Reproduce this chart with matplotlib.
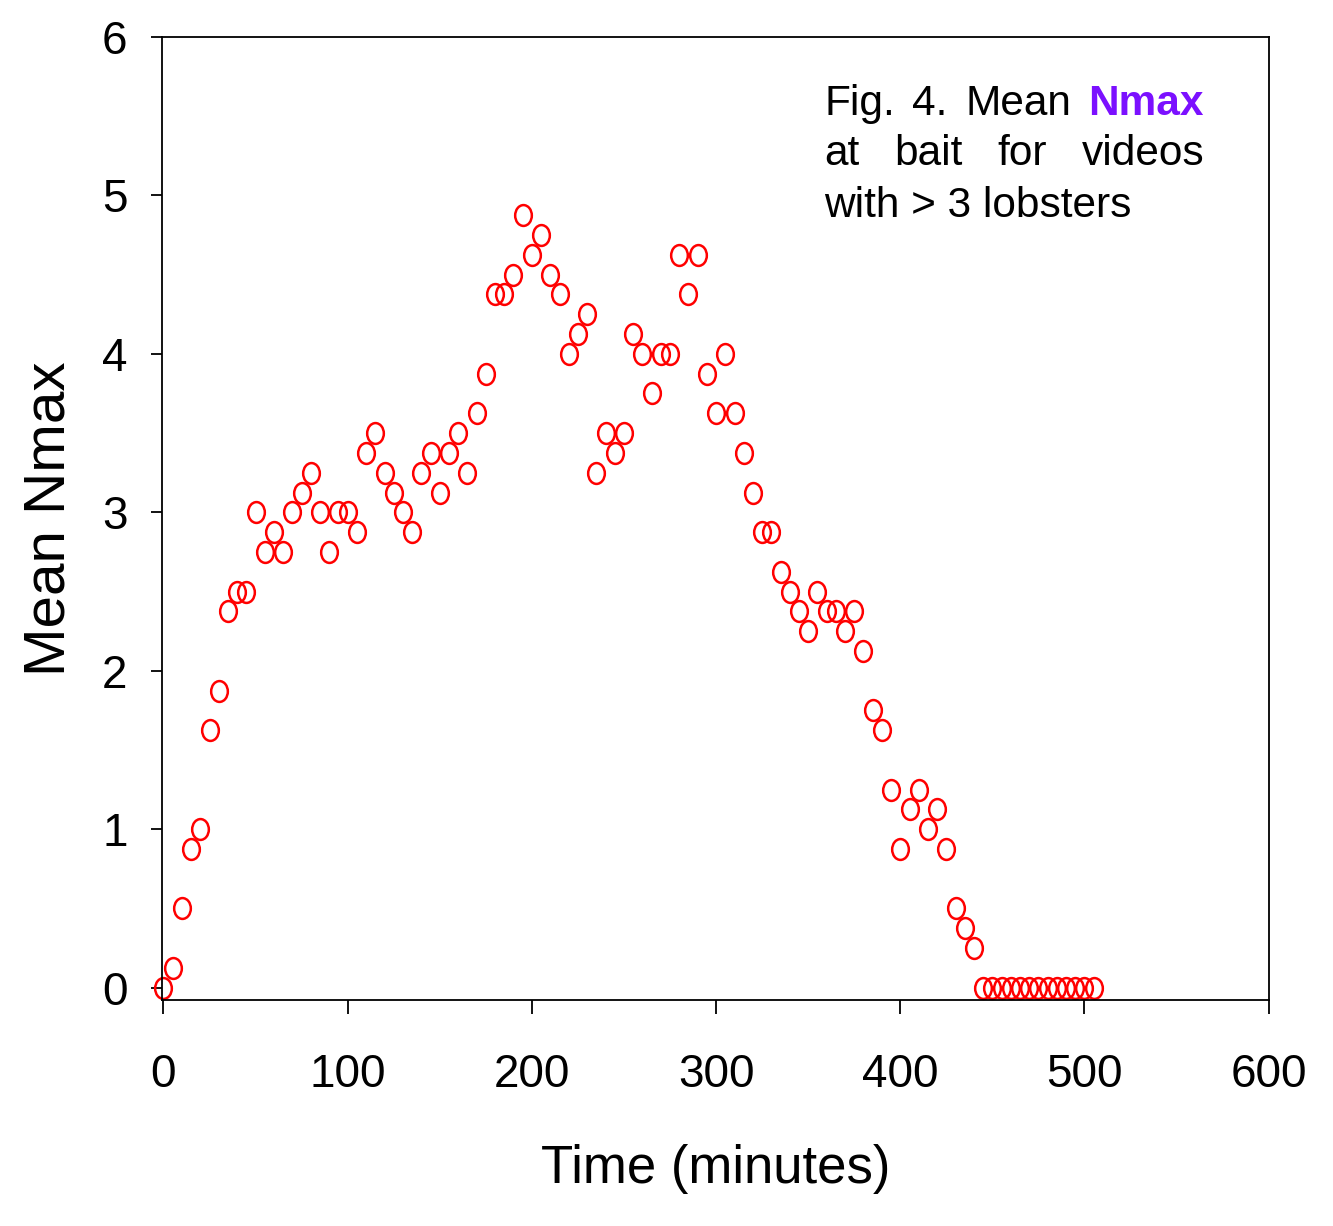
import numpy as np
import matplotlib
matplotlib.use("Agg")
import matplotlib.pyplot as plt
from matplotlib.path import Path
from matplotlib.transforms import Affine2D

# sampling times (minutes) and mean Nmax
time_min = [0, 5, 10, 15, 20, 25, 30, 35, 40, 45,
            50, 55, 60, 65, 70, 75, 80, 85, 90, 95,
            100, 105, 110, 115, 120, 125, 130, 135, 140, 145,
            150, 155, 160, 165, 170, 175, 180, 185, 190, 195,
            200, 205, 210, 215, 220, 225, 230, 235, 240, 245,
            250, 255, 260, 265, 270, 275, 280, 285, 290, 295,
            300, 305, 310, 315, 320, 325, 330, 335, 340, 345,
            350, 355, 360, 365, 370, 375, 380, 385, 390, 395,
            400, 405, 410, 415, 420, 425, 430, 435, 440, 445,
            450, 455, 460, 465, 470, 475, 480, 485, 490, 495,
            500, 505]
mean_nmax = [0, 0.125, 0.5, 0.875, 1.0, 1.625, 1.875, 2.375, 2.5, 2.5,
             3.0, 2.75, 2.875, 2.75, 3.0, 3.125, 3.25, 3.0, 2.75, 3.0,
             3.0, 2.875, 3.375, 3.5, 3.25, 3.125, 3.0, 2.875, 3.25, 3.375,
             3.125, 3.375, 3.5, 3.25, 3.625, 3.875, 4.375, 4.375, 4.5, 4.875,
             4.625, 4.75, 4.5, 4.375, 4.0, 4.125, 4.25, 3.25, 3.5, 3.375,
             3.5, 4.125, 4.0, 3.75, 4.0, 4.0, 4.625, 4.375, 4.625, 3.875,
             3.625, 4.0, 3.625, 3.375, 3.125, 2.875, 2.875, 2.625, 2.5, 2.375,
             2.25, 2.5, 2.375, 2.375, 2.25, 2.375, 2.125, 1.75, 1.625, 1.25,
             0.875, 1.125, 1.25, 1.0, 1.125, 0.875, 0.5, 0.375, 0.25, 0,
             0, 0, 0, 0, 0, 0, 0, 0, 0, 0,
             0, 0]

x_ticks = [0, 100, 200, 300, 400, 500, 600]
y_ticks = [0, 1, 2, 3, 4, 5, 6]

plt.rcParams['font.family'] = ['Liberation Sans', 'DejaVu Sans']

W, H = 1333, 1226
fig = plt.figure(figsize=(W / 100, H / 100), dpi=100)
ax = fig.add_axes([162.3 / W, 1 - 1000 / H, (1268.7 - 162.3) / W, (1000 - 37) / H])

# slightly tall open circle, like the original
ell = Path.unit_circle().transformed(Affine2D().scale(0.8, 1.0))
ax.plot(time_min, mean_nmax, linestyle='none', marker=ell, markersize=15,
        markerfacecolor='none', markeredgecolor='#ff0000', markeredgewidth=1.8,
        clip_on=False)

ax.set_xlim(-0.65, 600)
ax.set_ylim(-0.078, 6)
ax.set_xticks(x_ticks)
ax.set_yticks(y_ticks)
ax.set_xticklabels([str(v) for v in x_ticks], fontsize=33)
ax.set_yticklabels([str(v) for v in y_ticks], fontsize=33)
ax.tick_params(axis='x', direction='out', length=10, width=1.3, pad=28)
ax.tick_params(axis='y', direction='out', length=8, width=1.3, pad=17)
for s in ax.spines.values():
    s.set_linewidth(1.3)

ax.set_xlabel('Time (minutes)', fontsize=38, va='top')
ax.xaxis.set_label_coords(0.5, -0.150)
ax.set_ylabel('Mean Nmax', fontsize=42)
ax.yaxis.set_label_coords(-0.078, 0.5)

# justified caption in the upper right
left_px, right_px = 824, 1204
lines = [
    ([('Fig.', 'k', 'normal'), ('4.', 'k', 'normal'), ('Mean', 'k', 'normal'),
      ('Nmax', '#7b10ff', 'bold')], 115, True),
    ([('at', 'k', 'normal'), ('bait', 'k', 'normal'), ('for', 'k', 'normal'),
      ('videos', 'k', 'normal')], 165, True),
    ([('with > 3 lobsters', 'k', 'normal')], 217, False),
]
renderer = fig.canvas.get_renderer()
for words, base_px, justify in lines:
    txts = [fig.text(0, 1 - base_px / H, w, color=c, fontweight=fw, fontsize=30.5,
                     va='baseline', ha='left')
            for w, c, fw in words]
    widths = [t.get_window_extent(renderer).width for t in txts]
    gap = (right_px - left_px - sum(widths)) / (len(txts) - 1) if justify else 0
    x = left_px
    for t, w in zip(txts, widths):
        t.set_x(x / W)
        x += w + gap

fig.savefig('out.png', dpi=100)
